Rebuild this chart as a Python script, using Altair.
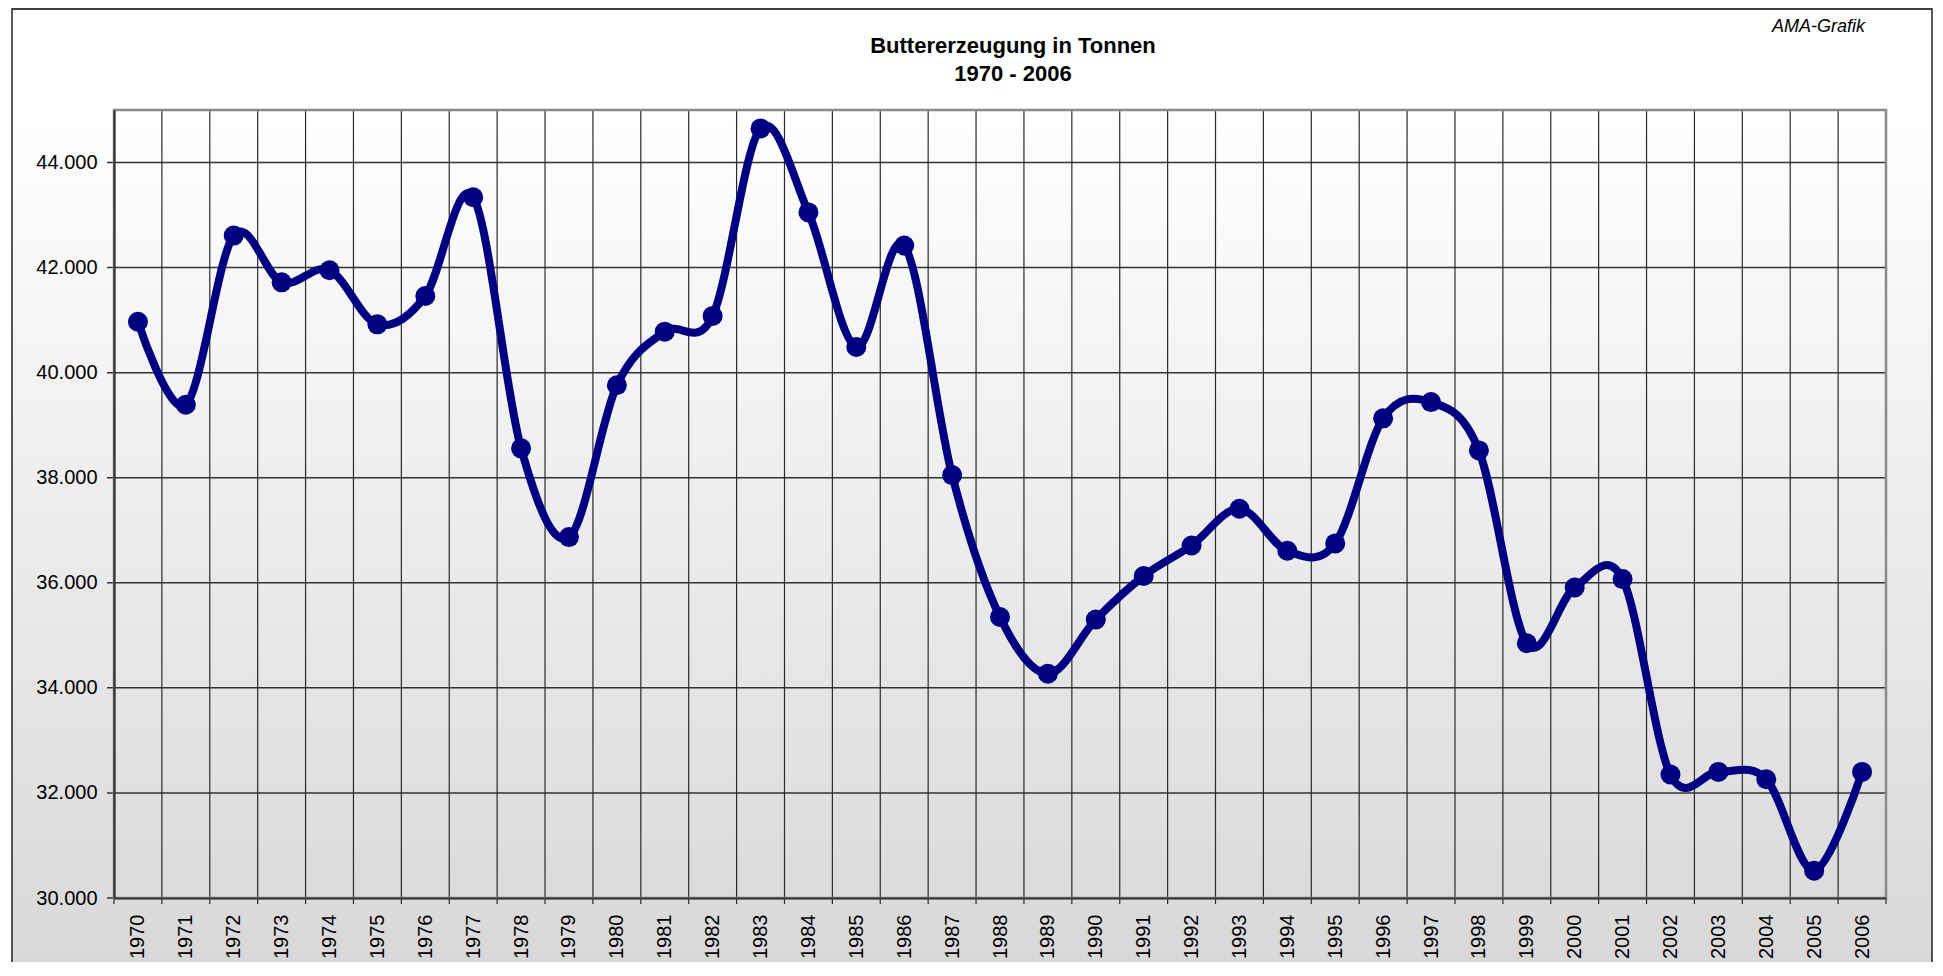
import altair as alt
import pandas as pd

years = list(range(1970, 2007))
values = [40970, 39390, 42610, 41720, 41950, 40920, 41460, 43340, 38560, 36870,
          39760, 40780, 41080, 44650, 43050, 40490, 42420, 38050, 35350, 34270,
          35300, 36130, 36710, 37410, 36610, 36750, 39130, 39440, 38520, 34850,
          35910, 36070, 32350, 32400, 32260, 30520, 32400]
y_ticks = [30000, 32000, 34000, 36000, 38000, 40000, 42000, 44000]
title_lines = ["Buttererzeugung in Tonnen", "1970 - 2006"]
credit = "AMA-Grafik"

W, H = 1772, 788
FONT = "Liberation Sans"
NAVY = "#000080"

df = pd.DataFrame({"year": years, "value": values})
hgrid = pd.DataFrame({"v": y_ticks})
vgrid = pd.DataFrame({"b": [y - 0.5 for y in years] + [years[-1] + 0.5]})
one = pd.DataFrame({"t": [credit]})

x_scale = alt.Scale(domain=[years[0] - 0.5, years[-1] + 0.5], nice=False, zero=False)
y_scale = alt.Scale(domain=[30000, 45000], nice=False, zero=False)

x_axis = alt.Axis(values=years, format="d", labelAngle=270, labelPadding=16,
                  labelFont=FONT, labelFontSize=20, labelColor="black",
                  tickSize=0, ticks=False, grid=False, title=None, zindex=1,
                  domainColor="#333333", domainWidth=2.2)
y_axis = alt.Axis(values=y_ticks, labelExpr="replace(format(datum.value, ','), ',', '.')",
                  labelFont=FONT, labelFontSize=20, labelColor="black",
                  labelPadding=17, tickSize=0, ticks=False, grid=False, title=None, zindex=1,
                  domainColor="#333333", domainWidth=2.2)

grad = alt.Gradient(
    gradient="linear", x1=0, y1=0, x2=0, y2=1,
    stops=[alt.GradientStop(offset=0, color="#ffffff"),
           alt.GradientStop(offset=0.1, color="#ffffff"),
           alt.GradientStop(offset=1, color="#d6d6d6")],
)

background = alt.Chart(one).mark_rect(fill=grad, stroke="black", strokeWidth=1.3).encode(
    x=alt.value(-102), x2=alt.value(W + 46), y=alt.value(-101), y2=alt.value(H + 110)
)

hrules = alt.Chart(hgrid).mark_rule(color="#333333", strokeWidth=1.5).encode(
    y=alt.Y("v:Q", scale=y_scale, axis=y_axis, title=None),
    x=alt.value(-7), x2=alt.value(W),
)

vrules = alt.Chart(vgrid).mark_rule(color="#2a2a2a", strokeWidth=1.2).encode(
    x=alt.X("b:Q", scale=x_scale, axis=x_axis, title=None),
    y=alt.value(0), y2=alt.value(H + 6),
)

border = alt.Chart(one).mark_rect(fill=None, stroke="#8a8a8a", strokeWidth=2.5).encode(
    x=alt.value(0), x2=alt.value(W), y=alt.value(0), y2=alt.value(H)
)

line = alt.Chart(df).mark_line(color=NAVY, strokeWidth=8, interpolate="cardinal").encode(
    x=alt.X("year:Q", scale=x_scale, axis=x_axis, title=None),
    y=alt.Y("value:Q", scale=y_scale, axis=y_axis, title=None),
)

points = alt.Chart(df).mark_point(filled=True, color=NAVY, size=400, opacity=1).encode(
    x=alt.X("year:Q", scale=x_scale, axis=x_axis, title=None),
    y=alt.Y("value:Q", scale=y_scale, axis=y_axis, title=None),
)

credit_text = alt.Chart(one).mark_text(
    font=FONT, fontSize=18, fontStyle="italic", align="right", baseline="middle", color="black"
).encode(x=alt.value(1751), y=alt.value(-83), text="t:N")

title1 = alt.Chart(pd.DataFrame({"t": [title_lines[0]]})).mark_text(
    font=FONT, fontSize=22, fontWeight="bold", align="center", baseline="middle", color="black"
).encode(x=alt.value(899), y=alt.value(-64), text="t:N")

title2 = alt.Chart(pd.DataFrame({"t": [title_lines[1]]})).mark_text(
    font=FONT, fontSize=22, fontWeight="bold", align="center", baseline="middle", color="black"
).encode(x=alt.value(899), y=alt.value(-36), text="t:N")

chart = alt.layer(background, hrules, vrules, border, line, points,
                  credit_text, title1, title2).properties(
    width=W, height=H,
    padding={"left": 106, "top": 102, "right": 47, "bottom": 64},
    autosize=alt.AutoSizeParams(type="none"),
).configure_view(stroke=None).configure(background="white")

chart.save("out.html", embed_options={"renderer": "svg", "actions": False})
